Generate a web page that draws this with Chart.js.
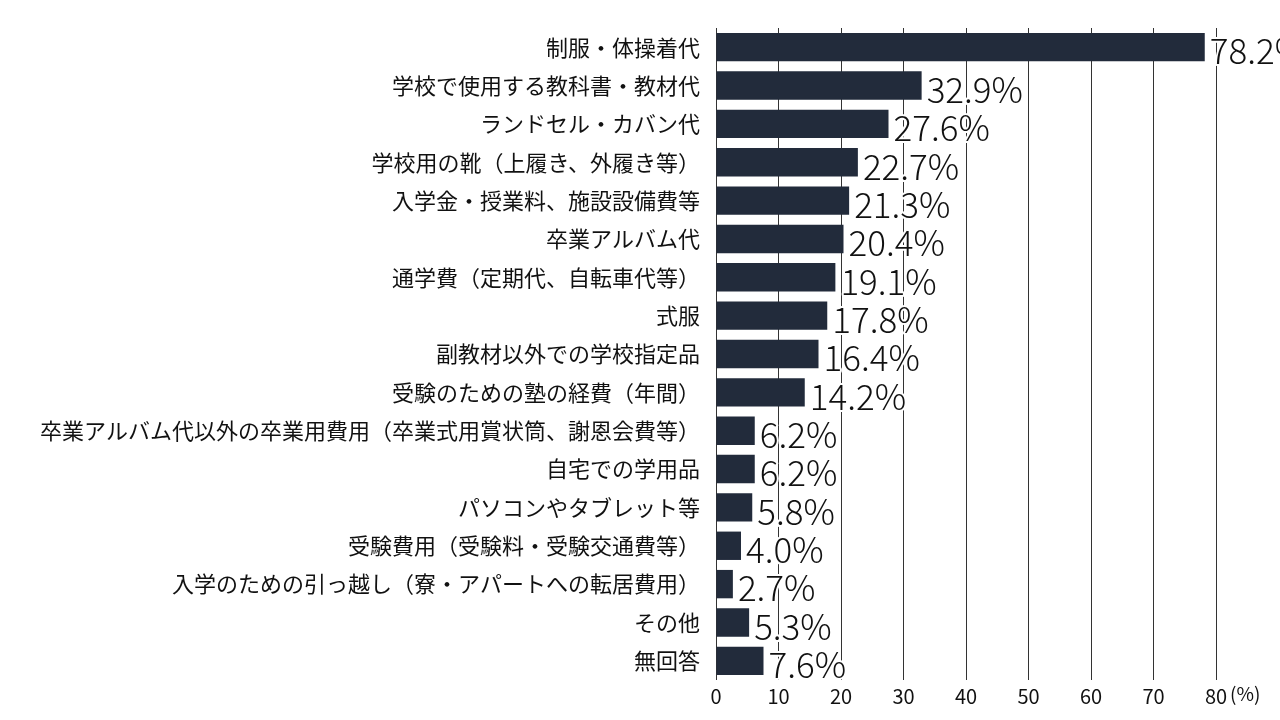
<!DOCTYPE html>
<html><head><meta charset="utf-8">
<script src="https://cdn.jsdelivr.net/npm/chart.js@4"></script>
<style>body{margin:0;background:#fff}canvas{display:block}</style>
</head><body>
<canvas id="c" width="1280" height="720"></canvas>
<script>
const categories = [
  "制服・体操着代","学校で使用する教科書・教材代","ランドセル・カバン代","学校用の靴（上履き、外履き等）",
  "入学金・授業料、施設設備費等","卒業アルバム代","通学費（定期代、自転車代等）","式服",
  "副教材以外での学校指定品","受験のための塾の経費（年間）","卒業アルバム代以外の卒業用費用（卒業式用賞状筒、謝恩会費等）",
  "自宅での学用品","パソコンやタブレット等","受験費用（受験料・受験交通費等）",
  "入学のための引っ越し（寮・アパートへの転居費用）","その他","無回答"
];
const values = [78.2,32.9,27.6,22.7,21.3,20.4,19.1,17.8,16.4,14.2,6.2,6.2,5.8,4.0,2.7,5.3,7.6];
const xTicks = [0,10,20,30,40,50,60,70,80];
const FONT = '"Noto Sans CJK JP","Noto Sans",sans-serif';

const labelPlugin = {
  id: 'vals',
  afterDatasetsDraw(chart) {
    const ctx = chart.ctx;
    const meta = chart.getDatasetMeta(0);
    ctx.save();
    ctx.font = '300 35px ' + FONT;
    ctx.textBaseline = 'middle';
    ctx.lineJoin = 'round';
    meta.data.forEach((bar, i) => {
      const t = values[i].toFixed(1) + '%';
      ctx.lineWidth = 4; ctx.strokeStyle = '#fff';
      ctx.strokeText(t, bar.x + 5, bar.y + 4);
      ctx.fillStyle = '#111';
      ctx.fillText(t, bar.x + 5, bar.y + 4);
    });
    const x = chart.scales.x;
    ctx.font = '19px ' + FONT;
    ctx.fillStyle = '#111';
    ctx.textBaseline = 'top';
    ctx.fillText('(%)', x.right + 14, x.top + 4);
    ctx.restore();
  }
};

new Chart(document.getElementById('c'), {
  type: 'bar',
  data: { labels: categories, datasets: [{ data: values, backgroundColor: '#222b3b',
    barPercentage: 0.74, categoryPercentage: 1 }] },
  options: {
    indexAxis: 'y', responsive: false, animation: false,
    layout: { padding: { top: 28, right: 64, left: 0, bottom: 0 } },
    plugins: { legend: { display: false }, tooltip: { enabled: false } },
    scales: {
      x: { min: 0, max: 80, afterBuildTicks: s => { s.ticks = xTicks.map(v => ({ value: v })); },
        afterFit: s => { s.height = 40; },
        grid: { color: '#333', lineWidth: 1, drawTicks: false },
        border: { display: false },
        ticks: { color: '#111', font: { size: 20, family: FONT }, padding: 4 } },
      y: { afterFit: s => { s.width = 716; },
        grid: { display: false }, border: { display: false },
        ticks: { color: '#111', font: { size: 22, family: FONT }, padding: 8, autoSkip: false } }
    }
  },
  plugins: [labelPlugin]
});
</script>
</body></html>
